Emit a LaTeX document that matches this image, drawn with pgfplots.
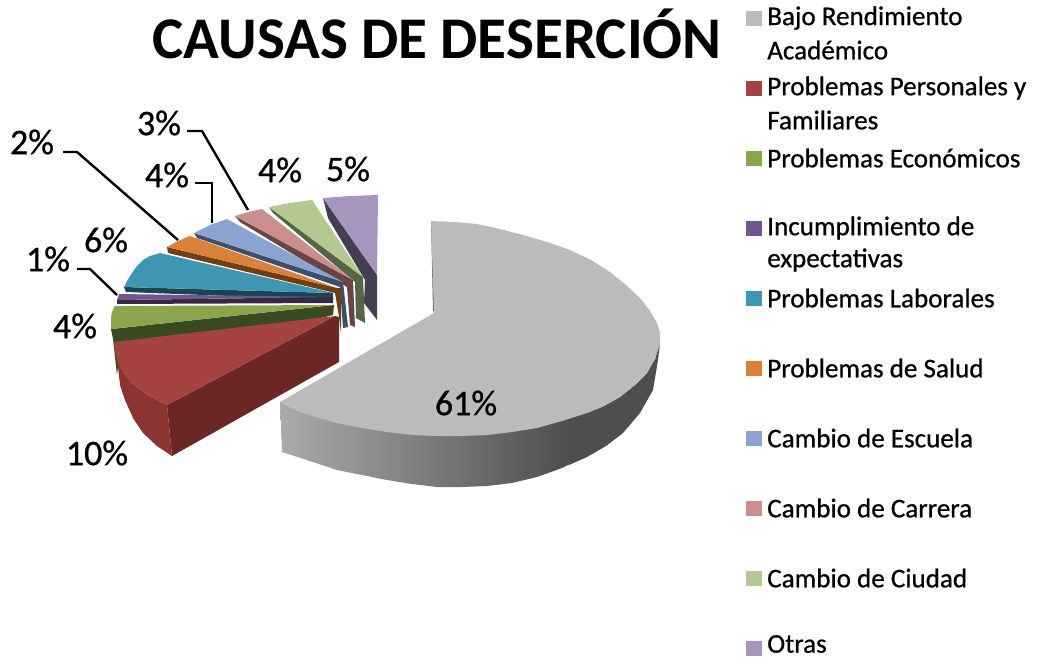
\documentclass[border=0pt]{standalone}
\usepackage{pgfplots}
\pgfplotsset{compat=1.18}
\usepackage{fontspec}
\setmainfont{Carlito}
\newfontfamily\lf[FakeBold=0.7]{Carlito}
\newcommand\poly[2]{\addplot[fill=#1,draw=none,forget plot] coordinates {#2} --cycle;}
\newcommand\leader[1]{\addplot[black,line width=1.8pt,forget plot] coordinates {#1};}
\newcommand\swatch[2]{\addplot[only marks,mark=square*,mark size=5.4pt,#1,mark options={fill=#1,draw=#1,line width=0.1pt},forget plot] coordinates {#2};}
\newcommand\lab[3]{\node[font=\lf\fontsize{27}{29}\selectfont,inner sep=0pt] at (axis cs:#1,#2) {#3};}
\newcommand\leg[2]{\node[anchor=west,inner sep=0pt,font=\lf\fontsize{20.3}{22}\selectfont] at (axis cs:767,#1) {#2};}
\definecolor{cgray}{HTML}{BBBBBB}
\definecolor{cred}{HTML}{A54340}\definecolor{credo}{HTML}{8B3533}\definecolor{credi}{HTML}{6B2726}
\definecolor{cgrn}{HTML}{8AA64C}\definecolor{cgrnd}{HTML}{3A4A20}
\definecolor{cpur}{HTML}{70558F}\definecolor{cpurd}{HTML}{352945}
\definecolor{ctea}{HTML}{3F96B0}\definecolor{cnavy}{HTML}{1B4452}
\definecolor{cora}{HTML}{D9813A}\definecolor{corad}{HTML}{6F3E14}
\definecolor{cblu}{HTML}{8AA4CF}\definecolor{cblud}{HTML}{3C4F6B}
\definecolor{cpin}{HTML}{CC8E8D}\definecolor{cpind}{HTML}{694546}
\definecolor{clgr}{HTML}{B3C98F}\definecolor{clgrd}{HTML}{566644}
\definecolor{clil}{HTML}{A695BD}\definecolor{clild}{HTML}{453E52}
\definecolor{sl}{HTML}{ABABAB}\definecolor{sr}{HTML}{4E4E4E}
\begin{document}
\begin{tikzpicture}
\begin{axis}[scale only axis,width=777.75pt,height=493.5pt,
  xmin=0,xmax=1037,ymin=0,ymax=658,y dir=reverse,hide axis,clip=false]
% Otras
\poly{clild}{(323,198)(328,218)(365,280)(364,303)(377,320)(377,275)}
\poly{clil}{(377,275)(378,195)(350,196)(323,198)}
% Cambio de Ciudad
\poly{clgrd}{(269,207)(273,213)(355,282)(356,318)(365,323)(363,277)}
\poly{clgr}{(363,277)(312,200)(290,203)(269,207)}
% Cambio de Carrera
\poly{cpind}{(235,216)(240,222)(347,287)(350,325)(355,327)(353,280)}
\poly{cpin}{(353,280)(262,209)(248,212)(235,216)}
% Cambio de Escuela
\poly{cblud}{(194,233)(197,238)(340,287)(343,328)(348,327)(343,282)}
\poly{cblu}{(343,282)(227,219)(210,225)(194,233)}
% Problemas de Salud
\poly{corad}{(167,247)(168,253)(335,293)(339,317)(341,333)(341,288)(337,288)}
\poly{cora}{(337,288)(190,236)(178,241)(167,247)}
% Problemas Laborales
\poly{cnavy}{(124,287)(126,292)(333,300)(333,293)}
\poly{ctea}{(333,293)(160,253)(150,256)(143,260)(137,266)(132,273)(127,281)(124,287)}
% Incumplimiento
\poly{cpurd}{(117,300)(117,304)(333,303)(333,297)}
\poly{cpur}{(333,297)(119,294)(117,300)}
% Problemas Economicos
\poly{cgrnd}{(111,329)(113,339)(117,375)(118,367)(333,315)(334,305)}
\poly{cgrn}{(334,305)(115,306)(112,312)(111,317)(111,329)}
% Problemas Personales
\poly{credi}{(167,405)(172,456)(339,362)(339,317)(335,316)}
\poly{credo}{(114,342)(116,356)(118,367)(120,385)(125,400)(133,418)(143,433)(157,446)(172,456)(167,405)(148,395)(132,383)(124,373)(118,362)}
\poly{cred}{(335,316)(114,342)(115,350)(118,362)(124,373)(132,383)(148,395)(167,405)}
% Bajo Rendimiento: side
\addplot[left color=sl,right color=sr,draw=none,forget plot] coordinates {
 (570,400)(570,464)(562,468)(537,477)(512,483)(487,486)(462,487)(437,487)(412,484)(387,480)(362,475)(337,470)(310,461)(282,452)(280,402)} --cycle;
\poly{sr}{(569,400)(587,413)(604,406)(620,397)(635,385)(647,373)(655,359)(660,343)(658,360)(653,390)(640,413)(623,433)(606,446)(587,457)(569,465)}
\poly{black!60}{(431,221)(433,311)(436,312)(432,222)}
\poly{cgray}{(434,313)(431,221)(455,222)(477,224)(500,229)(523,235)(547,242)(570,250)(591,260)(610,272)(626,285)(640,298)(650,311)(657,323)(660,333)(660,343)(655,359)(647,373)(635,385)(620,397)(604,406)(587,413)(562,421)(537,428)(512,432)(487,435)(462,436)(437,436)(412,435)(387,432)(362,428)(337,423)(319,418)(303,413)(291,408)(280,402)}
% leaders
\leader{(63,152)(77,152)(178,240)}
\leader{(187,131)(202,131)(248,210)}
\leader{(195,183)(212,183)(212,223)}
\leader{(77,269)(90,269)(117,295)}
% swatches
\swatch{cgray}{(753.5,18)}
\swatch{cred}{(753.5,88)}
\swatch{cgrn}{(753.5,158)}
\swatch{cpur}{(753.5,228)}
\swatch{ctea}{(753.5,298)}
\swatch{cora}{(753.5,368)}
\swatch{cblu}{(753.5,438)}
\swatch{cpin}{(753.5,508)}
\swatch{clgr}{(753.5,578)}
\swatch{clil}{(753.5,648)}
% title
\node[font=\fontsize{44.3}{46}\selectfont\bfseries,inner sep=0pt] at (axis cs:437,34) {CAUSAS DE DESERCIÓN};
% labels
\lab{466}{403}{61\%}
\lab{97}{453}{10\%}
\lab{75}{326}{4\%}
\lab{48}{259}{1\%}
\lab{106}{240}{6\%}
\lab{32}{142}{2\%}
\lab{167}{175}{4\%}
\lab{159}{123}{3\%}
\lab{280}{170}{4\%}
\lab{348}{169}{5\%}
% legend text
\leg{18}{Bajo Rendimiento}
\leg{50}{Académico}
\leg{88}{Problemas Personales y}
\leg{120}{Familiares}
\leg{158}{Problemas Económicos}
\leg{228}{Incumplimiento de}
\leg{260}{expectativas}
\leg{298}{Problemas Laborales}
\leg{368}{Problemas de Salud}
\leg{438}{Cambio de Escuela}
\leg{508}{Cambio de Carrera}
\leg{578}{Cambio de Ciudad}
\leg{644}{Otras}
\end{axis}
\pgfresetboundingbox
\path (0,0) rectangle (777.75pt,493.5pt);
\end{tikzpicture}
\end{document}
